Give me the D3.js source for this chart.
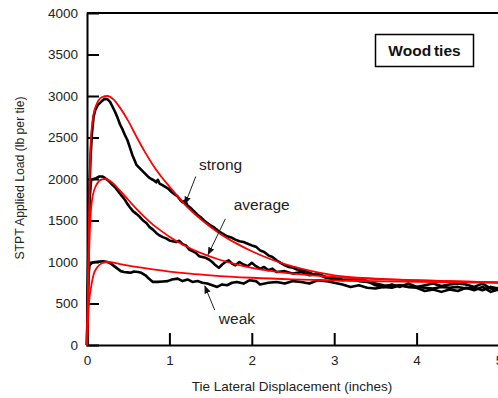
<!DOCTYPE html>
<html>
<head>
<meta charset="utf-8">
<script src="https://cdn.jsdelivr.net/npm/d3@7"></script>
<style>
  html, body { margin: 0; padding: 0; background: #fff; }
  svg { display: block; font-family: "Liberation Sans", Arial, sans-serif; }
</style>
</head>
<body>
<svg id="chart" width="498" height="398"></svg>
<script>
// Measured load-displacement traces (x in inches, y in lb per tie)
const strongX = [0,0.01,0.02,0.03,0.045,0.06,0.08,0.1,0.13,0.17,0.21,0.25,0.28,0.31,0.34,0.37,0.4,0.43,0.46,0.49,0.52,0.55,0.58,0.6,0.63,0.66,0.69,0.72,0.75,0.78,0.81,0.84,0.86,0.88,0.91,0.95,0.99,1.03,1.07,1.1,1.13,1.16,1.19,1.22,1.26,1.3,1.34,1.38,1.42,1.46,1.5,1.55,1.6,1.65,1.7,1.75,1.8,1.85,1.9,1.95,2.0,2.05,2.1,2.15,2.2,2.25,2.3,2.35,2.4,2.45,2.5,2.55,2.6,2.65,2.7,2.75,2.8,2.85,2.9,2.95,3.0,3.1,3.2,3.3,3.4,3.5,3.6,3.7,3.8,3.9,4.0,4.1,4.2,4.3,4.4,4.5,4.6,4.7,4.8,4.9,5.0];
const strongY = [0,600,1300,1900,2300,2550,2750,2830,2890,2930,2965,2960,2930,2870,2810,2740,2660,2600,2530,2470,2380,2290,2220,2170,2140,2110,2080,2050,2020,2000,1985,1960,1990,1945,1930,1905,1880,1840,1810,1790,1750,1720,1740,1680,1650,1610,1570,1540,1500,1470,1440,1410,1370,1340,1310,1295,1270,1250,1240,1220,1200,1185,1140,1120,1080,1060,1020,990,960,940,930,910,905,890,870,850,860,830,810,800,790,780,790,770,760,740,720,710,720,700,700,690,680,700,690,700,680,690,660,700,680];

const averageX = [0,0.01,0.02,0.035,0.05,0.08,0.11,0.15,0.19,0.22,0.26,0.3,0.34,0.38,0.42,0.46,0.49,0.52,0.56,0.6,0.64,0.68,0.72,0.76,0.8,0.84,0.88,0.92,0.96,1.0,1.04,1.08,1.12,1.16,1.2,1.24,1.28,1.32,1.36,1.4,1.44,1.48,1.52,1.56,1.6,1.64,1.68,1.72,1.76,1.8,1.85,1.9,1.95,2.0,2.05,2.1,2.15,2.2,2.25,2.3,2.4,2.5,2.6,2.7,2.8,2.9,3.0,3.1,3.2,3.3,3.4,3.5,3.6,3.7,3.8,3.9,4.0,4.1,4.2,4.3,4.4,4.5,4.6,4.7,4.8,4.9,5.0];
const averageY = [0,700,1400,1800,1990,2000,2010,2030,2030,2010,1980,1940,1900,1850,1800,1750,1700,1660,1610,1580,1545,1500,1470,1420,1390,1350,1320,1300,1285,1260,1250,1240,1255,1215,1200,1150,1130,1110,1070,1060,1050,1030,1000,960,930,970,1000,1020,980,960,1000,970,950,990,950,920,940,900,920,880,890,860,880,840,860,820,810,790,780,800,770,720,700,730,700,740,700,720,740,710,730,740,730,700,740,680,660];

const weakX = [0,0.01,0.02,0.03,0.06,0.1,0.15,0.2,0.25,0.29,0.33,0.37,0.41,0.45,0.49,0.53,0.57,0.62,0.66,0.71,0.75,0.8,0.86,0.92,0.98,1.03,1.1,1.16,1.22,1.28,1.34,1.4,1.46,1.52,1.58,1.64,1.7,1.76,1.82,1.9,1.97,2.05,2.1,2.2,2.3,2.4,2.5,2.6,2.7,2.8,2.9,3.0,3.1,3.2,3.3,3.4,3.5,3.6,3.7,3.8,3.9,4.0,4.1,4.2,4.3,4.4,4.5,4.6,4.7,4.8,4.9,5.0];
const weakY = [0,600,850,960,990,1000,1005,1010,1000,980,950,920,890,880,875,870,885,880,870,840,800,760,760,765,770,790,800,770,790,760,770,750,740,720,700,730,720,750,760,740,780,770,730,750,760,740,770,760,740,780,770,750,730,700,720,690,680,700,690,720,700,690,650,670,640,670,650,690,660,700,640,670];

// Fitted model curves
const fitStrongX = [0,0.01,0.02,0.04,0.07,0.12,0.18,0.25,0.32,0.4,0.5,0.6,0.7,0.8,0.9,1.0,1.2,1.4,1.6,1.8,2.0,2.2,2.4,2.6,2.8,3.0,3.5,4.0,4.5,5.0];
const fitStrongY = [0,700,1300,2300,2720,2910,2985,3000,2960,2860,2700,2510,2330,2170,2030,1910,1680,1500,1350,1230,1130,1045,975,920,875,840,800,780,765,755];

const fitAverageX = [0,0.01,0.02,0.04,0.07,0.12,0.18,0.22,0.3,0.4,0.5,0.6,0.7,0.8,0.9,1.0,1.2,1.4,1.6,1.8,2.0,2.2,2.5,3.0,3.5,4.0,4.5,5.0];
const fitAverageY = [0,450,900,1500,1800,1940,1995,2000,1960,1860,1750,1640,1540,1450,1375,1305,1190,1100,1030,975,930,895,860,820,795,778,765,755];

const fitWeakX = [0,0.01,0.02,0.05,0.08,0.12,0.18,0.25,0.4,0.6,0.8,1.0,1.25,1.5,2.0,2.5,3.0,3.5,4.0,4.5,5.0];
const fitWeakY = [0,250,450,700,850,930,985,1000,975,940,910,885,860,840,810,790,778,768,760,755,750];

const xTicks = [0, 1, 2, 3, 4, 5];
const yTicks = [0, 500, 1000, 1500, 2000, 2500, 3000, 3500, 4000];

// Callout labels, each pointing at its trace (data coordinates)
const calloutText = ["strong", "average", "weak"];
const calloutFrom = [[1.32, 2030], [1.68, 1520], [1.55, 420]];
const calloutTo = [[1.19, 1700], [1.47, 1090], [1.43, 710]];
const calloutLabel = [[1.36, 2110], [1.78, 1627], [1.6, 253]];

const svg = d3.select("#chart");
const x = d3.scaleLinear().domain([0, 5]).range([87, 499]);
const y = d3.scaleLinear().domain([0, 4000]).range([345, 13]);
const textColor = "#222";

svg.append("defs").append("marker")
  .attr("id", "arrowhead")
  .attr("viewBox", "0 0 10 10")
  .attr("refX", 9).attr("refY", 5)
  .attr("markerWidth", 8).attr("markerHeight", 8)
  .attr("markerUnits", "userSpaceOnUse")
  .attr("orient", "auto")
  .append("path").attr("d", "M0,1 L10,5 L0,9 Z").attr("fill", "#111");

// Axes with inward ticks
const xAxis = d3.axisBottom(x).tickValues(xTicks).tickSize(-12).tickPadding(10.5).tickFormat(d3.format("d"));
const yAxis = d3.axisLeft(y).tickValues(yTicks).tickSize(-12).tickPadding(9).tickFormat(d3.format("d"));

const gx = svg.append("g").attr("transform", `translate(0,${y(0)})`).call(xAxis);
const gy = svg.append("g").attr("transform", `translate(${x(0)},0)`).call(yAxis);
[gx, gy].forEach(g => {
  g.select(".domain").attr("stroke", "#000").attr("stroke-width", 2);
  g.selectAll(".tick line").attr("stroke", "#000").attr("stroke-width", 2);
  g.selectAll(".tick text").attr("fill", textColor).attr("font-size", 13.5)
    .attr("font-family", "Liberation Sans, Arial, sans-serif");
});
gx.selectAll(".tick").filter(d => d === 0).select("line").remove();
gy.selectAll(".tick").filter(d => d === 0 || d === 4000).select("line").remove();

// top frame line
svg.append("line").attr("x1", x(0)).attr("x2", 498).attr("y1", y(4000)).attr("y2", y(4000))
  .attr("stroke", "#000").attr("stroke-width", 2);

const zip = (xs, ys) => xs.map((v, i) => [v, ys[i]]);
const measured = d3.line().x(d => x(d[0])).y(d => y(d[1]));
const fitted = d3.line().x(d => x(d[0])).y(d => y(d[1])).curve(d3.curveMonotoneX);

const plot = svg.append("g");
[[strongX, strongY], [averageX, averageY], [weakX, weakY]].forEach(([xs, ys]) => {
  plot.append("path").datum(zip(xs, ys)).attr("d", measured)
    .attr("fill", "none").attr("stroke", "#000").attr("stroke-width", 2.6)
    .attr("stroke-linejoin", "round");
});
[[fitStrongX, fitStrongY], [fitAverageX, fitAverageY], [fitWeakX, fitWeakY]].forEach(([xs, ys]) => {
  plot.append("path").datum(zip(xs, ys)).attr("d", fitted)
    .attr("fill", "none").attr("stroke", "#f00").attr("stroke-width", 1.8);
});

// Callouts
calloutText.forEach((t, i) => {
  svg.append("line")
    .attr("x1", x(calloutFrom[i][0])).attr("y1", y(calloutFrom[i][1]))
    .attr("x2", x(calloutTo[i][0])).attr("y2", y(calloutTo[i][1]))
    .attr("stroke", "#222").attr("stroke-width", 1)
    .attr("marker-end", "url(#arrowhead)");
  svg.append("text").attr("x", x(calloutLabel[i][0])).attr("y", y(calloutLabel[i][1]))
    .attr("font-size", 15.5).attr("fill", textColor).text(t);
});

// Title box
svg.append("rect").attr("x", 375.5).attr("y", 34.5).attr("width", 98).attr("height", 32)
  .attr("fill", "#fff").attr("stroke", "#000").attr("stroke-width", 1.5);
svg.append("text").attr("x", 424.5).attr("y", 56).attr("text-anchor", "middle")
  .attr("font-size", 15.5).attr("font-weight", "bold").attr("fill", "#111")
  .attr("word-spacing", -1.5).text("Wood ties");

// Axis titles
svg.append("text").attr("x", 292).attr("y", 391).attr("text-anchor", "middle")
  .attr("font-size", 13.5).attr("fill", textColor).text("Tie Lateral Displacement (inches)");
svg.append("text").attr("transform", "translate(24,178) rotate(-90)").attr("text-anchor", "middle")
  .attr("font-size", 12.2).attr("fill", textColor).text("STPT Applied Load (lb per tie)");
</script>
</body>
</html>
